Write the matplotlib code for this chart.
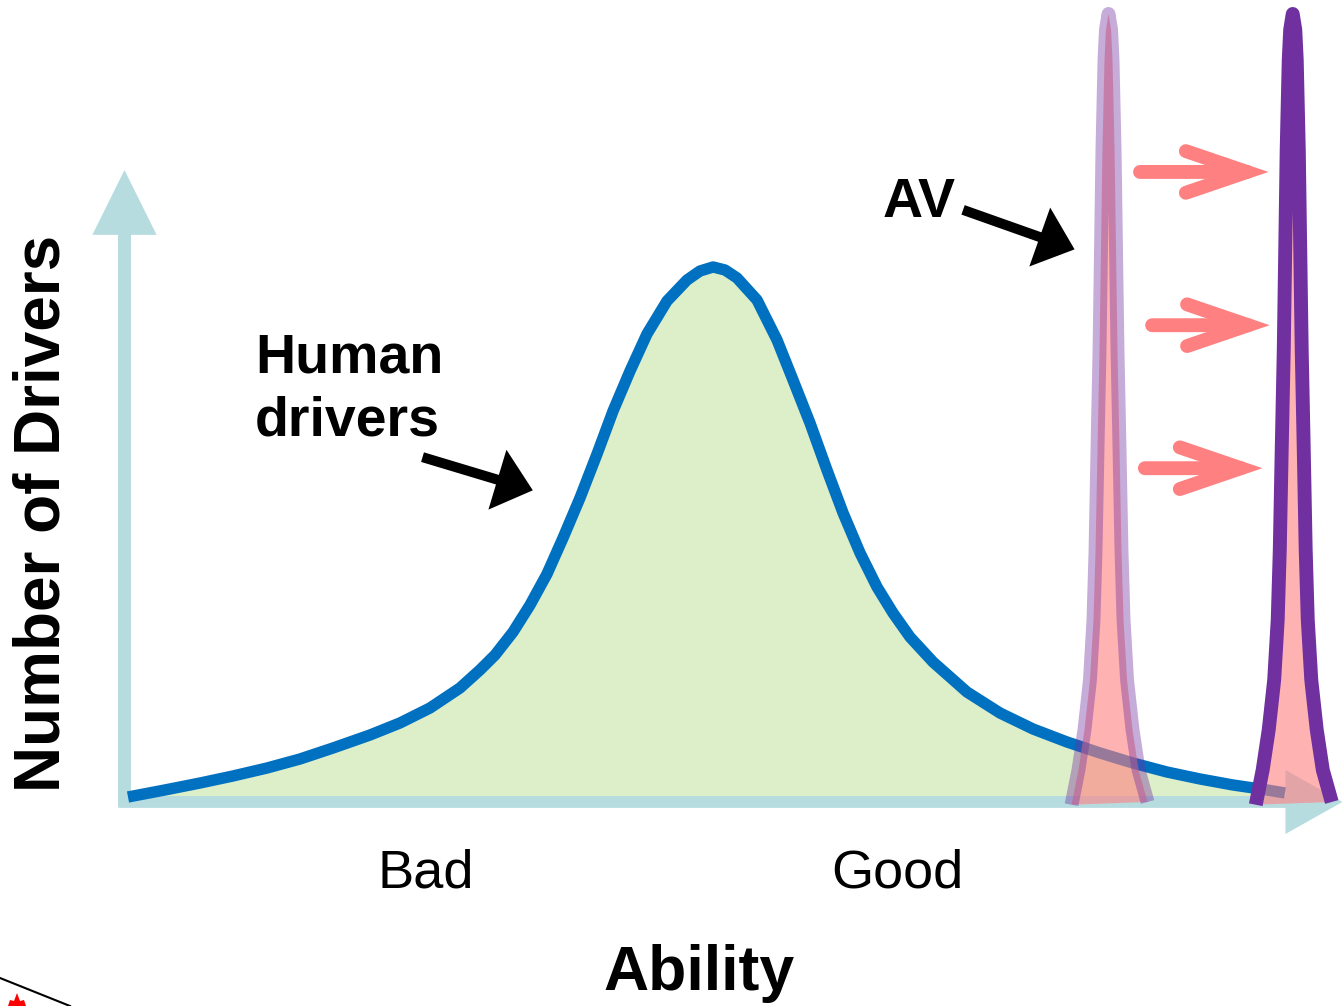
import numpy as np
import matplotlib.pyplot as plt
from matplotlib.patches import FancyArrowPatch, ArrowStyle, Polygon
from matplotlib.lines import Line2D

plt.rcParams['font.family'] = ['Liberation Sans', 'DejaVu Sans']

W, H = 1344, 1006

# human drivers: ability (0-100) vs number of drivers (0-100)
human_x = [0.0, 3.05, 5.94, 8.66, 11.47, 14.19, 16.91, 19.97, 22.44, 24.92, 27.39, 29.04,
           30.28, 31.77, 33.17, 34.57, 35.89, 37.29, 38.70, 40.02, 41.42, 42.82, 44.47,
           46.12, 47.19, 48.27, 49.26, 50.25, 51.90, 53.55, 54.87, 56.27, 57.67, 59.00,
           60.40, 61.80, 63.12, 64.52, 66.42, 69.22, 71.95, 74.67, 77.48, 80.20, 82.92,
           85.73, 88.45, 91.17, 93.98, 95.46]
human_y = [0.38, 1.27, 2.15, 3.04, 4.05, 5.19, 6.58, 8.23, 9.75, 11.65, 14.18, 16.46,
           18.35, 21.27, 24.68, 28.61, 33.16, 38.23, 43.80, 49.24, 54.30, 58.99, 63.16,
           65.82, 66.96, 67.47, 67.09, 66.08, 63.29, 58.23, 53.16, 47.72, 41.77, 36.33,
           31.27, 26.96, 23.67, 20.63, 17.47, 13.67, 11.01, 8.99, 7.34, 5.95, 4.68,
           3.54, 2.66, 1.90, 1.27, 0.89]

# AV distribution shape (offset from its centre) and centres now / later
av_dx = [-3.05, -2.48, -1.98, -1.53, -1.24, -1.07, -0.91, -0.74, -0.62, -0.50, -0.33,
         -0.21, 0, 0.21, 0.33, 0.50, 0.62, 0.74, 0.91, 1.07, 1.24, 1.53, 1.98, 2.48, 3.22]
av_h = [-0.6, 3.8, 8.9, 15.2, 22.8, 31.6, 44.3, 57.0, 69.6, 82.3, 93.7, 97.5, 99.5,
        97.5, 93.7, 82.3, 69.6, 57.0, 44.3, 31.6, 22.8, 15.2, 8.9, 3.8, -0.25]
av_now = 80.9
av_later = 96.1

# pink "improvement" arrows
shift_y = [79.5, 60.1, 42.0]
shift_x0 = [83.5, 84.5, 83.9]
shift_x1 = [94.1, 94.2, 93.6]

axis_c = '#B7DCE0'
blue = '#0070C0'
green = '#DDEFC9'
purple = '#7030A0'
pink = '#FF8080'

fig = plt.figure(figsize=(W / 100, H / 100), dpi=100)
ax = fig.add_axes([128 / W, 206 / H, 1212 / W, 790 / H])
ax.set_xlim(0, 100)
ax.set_ylim(0, 100)
ax.axis('off')


def fx(x):
    return x / W


def fy(y):
    return 1 - y / H


# human distribution
ax.fill_between(human_x, human_y, 0, color=green, lw=0, zorder=1)

# axes with arrow heads
ax.arrow(-0.29, -0.76, 0, 80.5, width=1.07, head_width=5.3, head_length=8.2,
         length_includes_head=True, color=axis_c, lw=0, zorder=2, clip_on=False)
ax.arrow(-0.8, -0.25, 101.0, 0, width=1.5, head_width=8.1, head_length=4.7,
         length_includes_head=True, color=axis_c, lw=0, zorder=2, clip_on=False)

ax.plot(human_x, human_y, color=blue, lw=8.2, solid_joinstyle='round',
        solid_capstyle='butt', zorder=3, clip_on=False)

# AV distributions
for c, a in [(av_now, 0.4), (av_later, 1.0)]:
    xs = [c + d for d in av_dx]
    ax.fill(xs, av_h, color=pink, alpha=0.6, lw=0, zorder=4, clip_on=False)
    ax.plot(xs, av_h, color=purple, alpha=a, lw=10, solid_joinstyle='round',
            solid_capstyle='butt', zorder=5, clip_on=False)

# pink arrows
for x0, x1, y in zip(shift_x0, shift_x1, shift_y):
    arr = FancyArrowPatch((x0, y), (x1, y),
                          arrowstyle=ArrowStyle('->', head_length=44, head_width=15),
                          mutation_scale=1, color=pink, lw=10, capstyle='round',
                          joinstyle='miter', shrinkA=0, shrinkB=0, zorder=6, clip_on=False)
    ax.add_patch(arr)

# black pointer arrows
for start, tip in [((68.9, 74.7), (78.1, 69.7)), ((24.3, 43.4), (33.4, 39.2))]:
    arr = FancyArrowPatch(start, tip,
                          arrowstyle=ArrowStyle('simple', head_length=26.6, head_width=45,
                                                tail_width=7.2),
                          mutation_scale=1, color='black', lw=0, shrinkA=0, shrinkB=0,
                          zorder=7, clip_on=False)
    ax.add_patch(arr)

# labels
fig.text(fx(255), fy(372), 'Human', fontsize=40, weight='bold', ha='left', va='baseline')
fig.text(fx(255), fy(435), 'drivers', fontsize=40, weight='bold', ha='left', va='baseline')
fig.text(fx(883), fy(217), 'AV', fontsize=40, weight='bold', ha='left', va='baseline')
fig.text(fx(426), fy(887), 'Bad', fontsize=39, ha='center', va='baseline')
fig.text(fx(897), fy(887), 'Good', fontsize=39, ha='center', va='baseline')
fig.text(fx(699), fy(990), 'Ability', fontsize=45, weight='bold', ha='center', va='baseline')
fig.text(fx(60), fy(513), 'Number of Drivers', fontsize=46, weight='bold', rotation=90,
         rotation_mode='anchor', ha='center', va='baseline')

# logo corner fragment
fig.add_artist(Line2D([fx(0), fx(70)], [fy(978), fy(1006)], transform=fig.transFigure,
                      color='black', lw=1.5))
leaf = [(8, 1006), (10, 1000), (14, 1001), (17, 993), (20, 1001), (24, 1000), (26, 1006)]
fig.add_artist(Polygon([(fx(a), fy(b)) for a, b in leaf], closed=True,
                       transform=fig.transFigure, color='red', lw=0))

fig.savefig('out.png', dpi=100)
